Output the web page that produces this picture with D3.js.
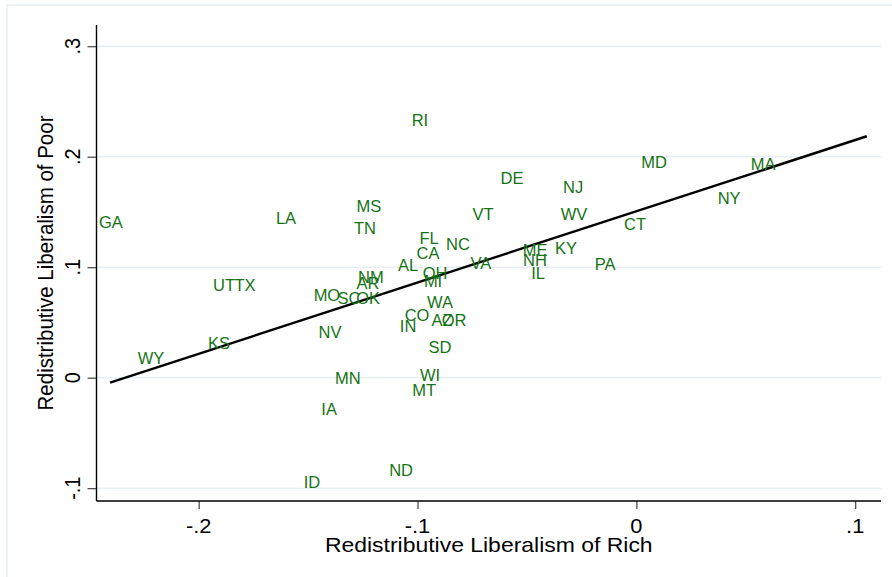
<!DOCTYPE html>
<html>
<head>
<meta charset="utf-8">
<script src="https://cdn.jsdelivr.net/npm/d3@7"></script>
<style>
  html, body { margin: 0; padding: 0; background: #fff; }
  svg { display: block; font-family: "Liberation Sans", Arial, Helvetica, sans-serif; }
</style>
</head>
<body>
<svg id="chart" width="892" height="577"></svg>
<script>
// ---- data ----
const states = ["GA","WY","KS","UT","TX","LA","ID","IA","NV","MO","MN","SC","OK","TN","MS","NM","AR","ND","AL","IN","CO","RI","MT","CA","FL","WI","MI","OH","WA","SD","AZ","OR","NC","VA","VT","DE","ME","NH","IL","KY","NJ","WV","PA","CT","MD","NY","MA"];
const richLib = [-0.2401,-0.2218,-0.1907,-0.1884,-0.1788,-0.1601,-0.1482,-0.1404,-0.1400,-0.1414,-0.1318,-0.1313,-0.1226,-0.1240,-0.1222,-0.1213,-0.1226,-0.1075,-0.1043,-0.1043,-0.1002,-0.0989,-0.0970,-0.0952,-0.0947,-0.0943,-0.0929,-0.0920,-0.0897,-0.0897,-0.0888,-0.0833,-0.0815,-0.0710,-0.0701,-0.0568,-0.0463,-0.0463,-0.0449,-0.0321,-0.0289,-0.0285,-0.0143,-0.0006,0.0081,0.0424,0.0579];
const poorLib = [0.1409,0.0178,0.0314,0.0839,0.0839,0.1445,-0.0944,-0.0283,0.0414,0.0748,-0.0003,0.0721,0.0721,0.1355,0.1554,0.0911,0.0857,-0.0835,0.1020,0.0468,0.0567,0.2332,-0.0111,0.1128,0.1264,0.0024,0.0875,0.0947,0.0685,0.0278,0.0522,0.0522,0.1210,0.1038,0.1481,0.1807,0.1156,0.1065,0.0947,0.1174,0.1726,0.1481,0.1029,0.1391,0.1952,0.1626,0.1934];
const fitX = [-0.2405, 0.1053];
const fitY = [-0.0045, 0.2185];
const xTicks = [-0.2, -0.1, 0, 0.1];
const xTickLabels = ["-.2", "-.1", "0", ".1"];
const yTicks = [-0.1, 0, 0.1, 0.2, 0.3];
const yTickLabels = ["-.1", "0", ".1", ".2", ".3"];
const xTitle = "Redistributive Liberalism of Rich";
const yTitle = "Redistributive Liberalism of Poor";

// ---- layout ----
const svg = d3.select("#chart");
const L = 96.5, R = 881, T = 25, B = 501;
const x = d3.scaleLinear().domain([-0.2467, 0.1118]).range([L, R]);
const y = d3.scaleLinear().domain([-0.1116, 0.3192]).range([B, T]);
const SX = 1.12; // horizontal glyph stretch of the reference

// outer frame
svg.append("rect").attr("x", 7).attr("y", 5).attr("width", 900).attr("height", 600)
  .attr("fill", "none").attr("stroke", "#e6eef2").attr("stroke-width", 1.5);

// gridlines
svg.append("g").selectAll("line").data(yTicks).join("line")
  .attr("x1", L).attr("x2", R)
  .attr("y1", d => y(d)).attr("y2", d => y(d))
  .attr("stroke", "#e8eff3").attr("stroke-width", 1.6);

// axes
const yAxis = d3.axisLeft(y).tickValues(yTicks).tickSize(9).tickFormat("");
const gy = svg.append("g").attr("transform", `translate(${L},0)`).call(yAxis);
gy.select(".domain").remove();
gy.selectAll(".tick line").attr("stroke", "#444").attr("stroke-width", 1.2);
svg.append("line").attr("x1", L).attr("x2", L).attr("y1", T).attr("y2", B)
  .attr("stroke", "#000").attr("stroke-width", 1.4);

const xAxis = d3.axisBottom(x).tickValues(xTicks).tickSize(8).tickFormat("");
const gx = svg.append("g").attr("transform", `translate(0,${B})`).call(xAxis);
gx.select(".domain").remove();
gx.selectAll(".tick line").attr("stroke", "#444").attr("stroke-width", 1.2);
svg.append("line").attr("x1", L).attr("x2", R).attr("y1", B).attr("y2", B)
  .attr("stroke", "#000").attr("stroke-width", 1.4);

// tick labels
svg.append("g").selectAll("text").data(yTicks).join("text")
  .attr("transform", d => `translate(80,${y(d)}) scale(${SX},1) rotate(-90)`)
  .attr("text-anchor", "middle").attr("font-size", 20).attr("fill", "#000")
  .text((d, i) => yTickLabels[i]);
svg.append("g").selectAll("text").data(xTicks).join("text")
  .attr("transform", d => `translate(${x(d)},532.5) scale(${SX},1)`)
  .attr("text-anchor", "middle").attr("font-size", 19.5).attr("fill", "#000")
  .text((d, i) => xTickLabels[i]);

// axis titles
svg.append("text")
  .attr("transform", `translate(53,${(T + B) / 2}) scale(${SX},1) rotate(-90)`)
  .attr("text-anchor", "middle").attr("font-size", 20.5).attr("fill", "#000")
  .text(yTitle);
svg.append("text")
  .attr("transform", `translate(${(L + R) / 2},552) scale(${SX},1)`)
  .attr("text-anchor", "middle").attr("font-size", 20.5).attr("fill", "#000")
  .text(xTitle);

// fit line
svg.append("path")
  .datum(fitX.map((v, i) => [v, fitY[i]]))
  .attr("d", d3.line().x(d => x(d[0])).y(d => y(d[1])))
  .attr("fill", "none").attr("stroke", "#000").attr("stroke-width", 2.4);

// state labels
svg.append("g").selectAll("text").data(states).join("text")
  .attr("x", (d, i) => x(richLib[i]))
  .attr("y", (d, i) => y(poorLib[i]))
  .attr("text-anchor", "middle").attr("dominant-baseline", "central")
  .attr("font-size", 16.5).attr("fill", "#157315")
  .text(d => d);
</script>
</body>
</html>
